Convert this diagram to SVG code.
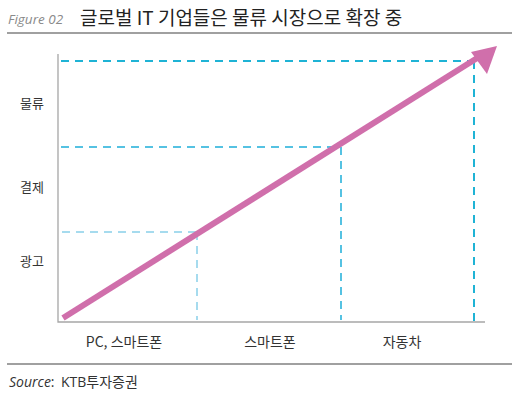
<svg xmlns="http://www.w3.org/2000/svg" width="516" height="394" viewBox="0 0 516 394">
<style>
.hdr{font-family:"Noto Sans CJK KR","Noto Sans",sans-serif;font-size:19px;fill:#222}
.fig{font-family:"Open Sans","Liberation Sans",sans-serif;font-style:italic;font-size:13.5px;fill:#8a8a8a}
.lbl{font-family:"Noto Sans CJK KR","Noto Sans",sans-serif;font-size:13px;fill:#333}
.xl{font-size:14px}
.src{font-family:"Open Sans","Liberation Sans","Noto Sans CJK KR",sans-serif;font-size:14px;fill:#333}
.rule{stroke:#a0a0a0;stroke-width:2}
.axis{stroke:#a6a6a6;stroke-width:1.3;fill:none}
.d1{stroke:#1fb3d5;stroke-width:2;stroke-dasharray:8,6;fill:none}
.d2{stroke:#55c2e2;stroke-width:2;stroke-dasharray:8,6;fill:none}
.d3{stroke:#a6dbee;stroke-width:2;stroke-dasharray:8,6;fill:none}
</style>
<rect width="516" height="394" fill="#fff"/>
<g id="header">
<text class="fig" x="8" y="24">Figure 02</text>
<text class="hdr" x="80" y="25">글로벌 IT 기업들은 물류 시장으로 확장 중</text>
<line class="rule" x1="7" y1="33" x2="512" y2="33"/>
</g>
<g id="axes">
<polyline class="axis" points="58,54 58,322 485,322"/>
</g>
<g id="connectors">
<line class="d1" x1="61" y1="61" x2="474" y2="61"/>
<line class="d1" x1="474" y1="61" x2="474" y2="321"/>
<line class="d2" x1="61" y1="147" x2="341" y2="147"/>
<line class="d2" x1="341" y1="147" x2="341" y2="320"/>
<line class="d3" x1="62" y1="232" x2="197" y2="232"/>
<line class="d3" x1="197" y1="232" x2="197" y2="320"/>
<line x1="63" y1="318" x2="482" y2="55" stroke="#d06fab" stroke-width="6"/>
<polygon points="497,46 471,52 487,74" fill="#d06fab"/>
</g>
<g id="ylabels">
<text class="lbl" x="32" y="108" text-anchor="middle">물류</text>
<text class="lbl" x="32" y="192" text-anchor="middle">결제</text>
<text class="lbl" x="32" y="266" text-anchor="middle">광고</text>
</g>
<g id="xlabels">
<text class="lbl xl" x="124" y="347" text-anchor="middle">PC, 스마트폰</text>
<text class="lbl xl" x="270" y="347" text-anchor="middle">스마트폰</text>
<text class="lbl xl" x="402" y="347" text-anchor="middle">자동차</text>
</g>
<g id="footer">
<line class="rule" x1="7" y1="364" x2="512" y2="364" stroke-width="1.5"/>
<text class="src" x="9" y="387"><tspan font-style="italic">Source</tspan>:</text>
<text class="src" x="61" y="387" font-size="15">KTB투자증권</text>
</g>
</svg>
